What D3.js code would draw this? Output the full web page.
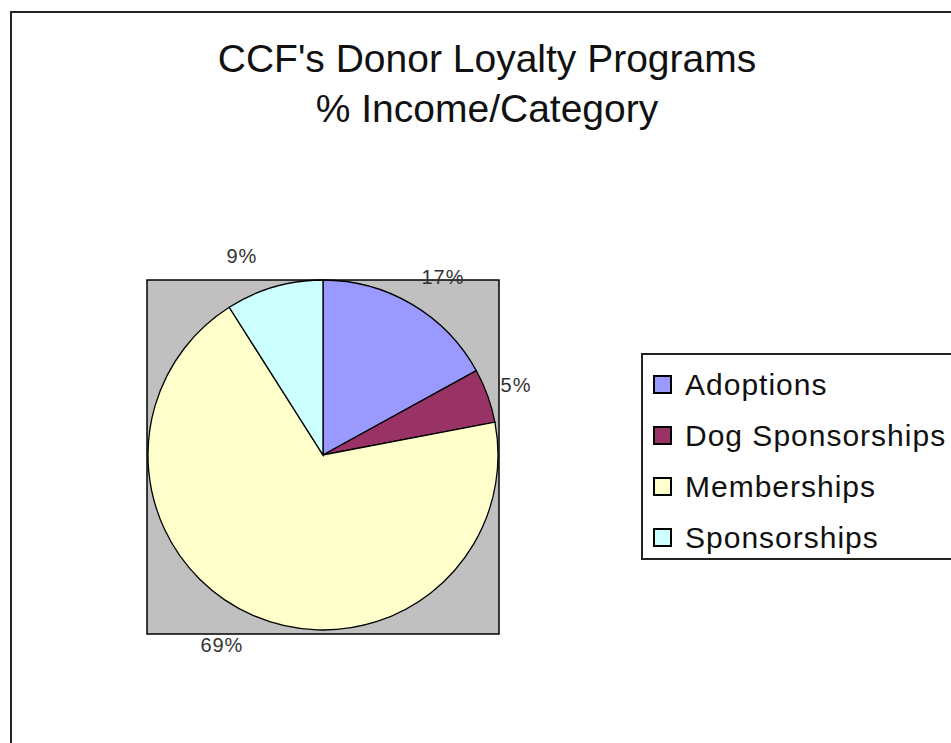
<!DOCTYPE html>
<html>
<head>
<meta charset="utf-8">
<script src="https://cdn.jsdelivr.net/npm/d3@7"></script>
<style>
  body { margin: 0; background: #fff; }
  svg { display: block; font-family: "Liberation Sans", Arial, sans-serif; }
</style>
</head>
<body>
<div id="chart"></div>
<script>
// Chart data
const categories = ['Adoptions', 'Dog Sponsorships', 'Memberships', 'Sponsorships'];
const shares = [17, 5, 69, 9];
const sliceColors = ['#9999FF', '#993366', '#FFFFCC', '#CCFFFF'];
const titleLines = ["CCF's Donor Loyalty Programs", '% Income/Category'];

const width = 951;
const height = 743;

const svg = d3.select('#chart')
  .append('svg')
  .attr('width', width)
  .attr('height', height);

// Chart area border (runs off the right and bottom of the picture)
svg.append('rect')
  .attr('x', 11)
  .attr('y', 12)
  .attr('width', 1000)
  .attr('height', 800)
  .attr('fill', '#fff')
  .attr('stroke', '#222')
  .attr('stroke-width', 2);

// Title
svg.append('g')
  .selectAll('text')
  .data(titleLines)
  .enter()
  .append('text')
  .attr('x', 487)
  .attr('y', (d, i) => 72 + i * 50)
  .attr('text-anchor', 'middle')
  .style('font-size', '39px')
  .style('fill', '#111')
  .text(d => d);

// Pie geometry
const cx = 323;
const cy = 455;
const radius = 175;

// Grey plot area
svg.append('rect')
  .attr('x', cx - radius - 1)
  .attr('y', cy - radius)
  .attr('width', radius * 2 + 2)
  .attr('height', radius * 2 + 4)
  .attr('fill', '#C0C0C0')
  .attr('stroke', '#000')
  .attr('stroke-width', 1.5);

const data = categories.map((c, i) => ({ label: c, value: shares[i] }));
const color = d3.scaleOrdinal().domain(categories).range(sliceColors);

const pie = d3.pie().value(d => d.value).sort(null);
const data_ready = pie(data);

const arc = d3.arc().innerRadius(0).outerRadius(radius);

const g = svg.append('g')
  .attr('transform', `translate(${cx}, ${cy})`);

g.selectAll('path')
  .data(data_ready)
  .enter()
  .append('path')
  .attr('d', arc)
  .attr('fill', d => color(d.data.label))
  .attr('stroke', '#000')
  .attr('stroke-width', 1.3);

// Percent labels, placed outside the pie the way Excel does
g.selectAll('text.pct')
  .data(data_ready)
  .enter()
  .append('text')
  .attr('class', 'pct')
  .attr('x', d => {
    const a = (d.startAngle + d.endAngle) / 2;
    const s = Math.sin(a);
    return s * (radius - 6) + Math.sign(s) * 34;
  })
  .attr('y', d => {
    const a = (d.startAngle + d.endAngle) / 2;
    return -Math.cos(a) * (radius + 32);
  })
  .attr('text-anchor', 'middle')
  .attr('dominant-baseline', 'central')
  .style('font-size', '20px')
  .style('letter-spacing', '1px')
  .style('fill', '#333')
  .text(d => d.data.value + '%');

// Legend
const legendX = 642;
const legendY = 354;

svg.append('rect')
  .attr('x', legendX)
  .attr('y', legendY)
  .attr('width', 400)
  .attr('height', 205)
  .attr('fill', '#fff')
  .attr('stroke', '#222')
  .attr('stroke-width', 2);

const legend = svg.selectAll('.legend')
  .data(categories)
  .enter()
  .append('g')
  .attr('class', 'legend')
  .attr('transform', (d, i) => `translate(${legendX + 12}, ${legendY + 30 + i * 51})`);

legend.append('rect')
  .attr('x', 0)
  .attr('y', -8)
  .attr('width', 17)
  .attr('height', 17)
  .attr('fill', d => color(d))
  .attr('stroke', '#000')
  .attr('stroke-width', 2);

legend.append('text')
  .attr('x', 31)
  .attr('y', 0)
  .attr('dominant-baseline', 'central')
  .style('font-size', '30px')
  .style('letter-spacing', '1px')
  .style('fill', '#111')
  .text(d => d);
</script>
</body>
</html>
